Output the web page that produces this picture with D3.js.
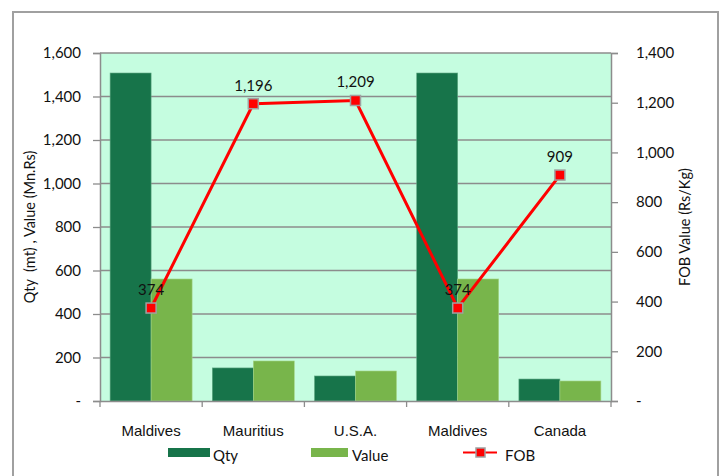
<!DOCTYPE html>
<html><head><meta charset="utf-8">
<script src="https://cdn.jsdelivr.net/npm/d3@7"></script>
<style>body{margin:0;background:#fff}svg{display:block;font-family:Lato,"Open Sans",sans-serif}text{white-space:pre}</style>
</head><body><svg id="c" width="723" height="476"></svg>
<script>
const categories = ["Maldives","Mauritius","U.S.A.","Maldives","Canada"];
const qty = [1508, 152, 115, 1508, 101];
const value = [561, 184, 138, 561, 92];
const fob = [374, 1196, 1209, 374, 909];
const leftTicks = [0,200,400,600,800,1000,1200,1400,1600];
const rightTicks = [0,200,400,600,800,1000,1200,1400];

const svg = d3.select("#c");
const m = {l:100, r:611, t:53, b:401};
const fmt = v => v === 0 ? "-" : d3.format(",")(v);
const FS = 15;

svg.append("path").attr("d","M13,476V12H718V476").attr("fill","none").attr("stroke","#a0a0a0").attr("stroke-width",2);

const x = d3.scaleBand().domain(d3.range(categories.length)).range([m.l,m.r]);
const yL = d3.scaleLinear().domain([0,1600]).range([m.b,m.t]);
const yR = d3.scaleLinear().domain([0,1400]).range([m.b,m.t]);

svg.append("rect").attr("x",m.l).attr("y",m.t).attr("width",m.r-m.l).attr("height",m.b-m.t).attr("fill","#c5fde0");

svg.append("g").selectAll("line").data(leftTicks.slice(1)).join("line")
 .attr("x1",m.l).attr("x2",m.r).attr("y1",d=>yL(d)).attr("y2",d=>yL(d))
 .attr("stroke","#8c8c8c").attr("stroke-width",1.3);

const bw = 41;
const gb = svg.append("g");
gb.selectAll(".q").data(qty).join("rect")
 .attr("x",(d,i)=>x(i)+x.bandwidth()/2-bw).attr("y",d=>yL(d)).attr("width",bw).attr("height",d=>m.b-yL(d))
 .attr("fill","#17744a").attr("stroke","#5fa883").attr("stroke-width",0.6);
gb.selectAll(".v").data(value).join("rect")
 .attr("x",(d,i)=>x(i)+x.bandwidth()/2).attr("y",d=>yL(d)).attr("width",bw).attr("height",d=>m.b-yL(d))
 .attr("fill","#78b54b").attr("stroke","#a6d58a").attr("stroke-width",0.6);

const axL = d3.axisLeft(yL).tickValues(leftTicks).tickFormat(fmt).tickSize(7).tickPadding(12);
const gL = svg.append("g").attr("transform",`translate(${m.l},0)`).call(axL);
const axR = d3.axisRight(yR).tickValues(rightTicks).tickFormat(fmt).tickSize(7).tickPadding(18);
const gR = svg.append("g").attr("transform",`translate(${m.r},0)`).call(axR);
const axB = d3.axisBottom(x).tickValues([]).tickSize(0);
const gB = svg.append("g").attr("transform",`translate(0,${m.b})`).call(axB);
gB.selectAll(".ct").data(d3.range(categories.length+1)).join("line")
 .attr("x1",i=>m.l+i*x.bandwidth()).attr("x2",i=>m.l+i*x.bandwidth()).attr("y1",0).attr("y2",6)
 .attr("stroke","#8c8c8c").attr("stroke-width",1.3);
gB.selectAll(".cl").data(categories).join("text")
 .attr("x",(d,i)=>x(i)+x.bandwidth()/2).attr("y",35).attr("text-anchor","middle")
 .attr("font-size",FS).attr("fill","#111").text(d=>d);
[gL,gR,gB].forEach(g=>{
  g.selectAll(".domain").attr("stroke","#8c8c8c").attr("stroke-width",1.5);
  g.selectAll(".tick line").attr("stroke","#8c8c8c").attr("stroke-width",1.3);
  g.selectAll(".tick text").attr("font-size",FS).attr("fill","#111").attr("font-family","Lato,'Open Sans',sans-serif");
});
gR.selectAll(".tick text").attr("text-anchor","start");

svg.append("text").attr("transform","translate(35,227) rotate(-90)").attr("text-anchor","middle")
 .attr("font-size",14.5).attr("fill","#111").text("Qty  (mt) , Value (Mn.Rs)");
svg.append("text").attr("transform","translate(690,227) rotate(-90)").attr("text-anchor","middle")
 .attr("font-size",14.5).attr("fill","#111").text("FOB Value (Rs/Kg)");

const cx = i => x(i)+x.bandwidth()/2;
svg.append("path").datum(fob).attr("fill","none").attr("stroke","#ff0000").attr("stroke-width",3)
 .attr("d",d3.line().x((d,i)=>cx(i)).y(d=>yR(d)));
svg.append("g").selectAll("rect").data(fob).join("rect")
 .attr("x",(d,i)=>cx(i)-5).attr("y",d=>yR(d)-5).attr("width",10).attr("height",10)
 .attr("fill","#ff0000").attr("stroke","#a0a0a0").attr("stroke-width",1.5);
svg.append("g").selectAll("text").data(fob).join("text")
 .attr("x",(d,i)=>cx(i)).attr("y",d=>yR(d)-13).attr("text-anchor","middle")
 .attr("font-size",FS).attr("fill","#111").text(d=>d3.format(",")(d));

const lg = svg.append("g");
lg.append("rect").attr("x",168).attr("y",448).attr("width",42).attr("height",9).attr("fill","#17744a");
lg.append("text").attr("x",213).attr("y",461).attr("font-size",FS).attr("fill","#111").text("Qty");
lg.append("rect").attr("x",311).attr("y",448).attr("width",37).attr("height",9).attr("fill","#78b54b");
lg.append("text").attr("x",352).attr("y",461).attr("font-size",FS).attr("fill","#111").text("Value");
lg.append("line").attr("x1",463).attr("x2",497).attr("y1",452.5).attr("y2",452.5).attr("stroke","#ff0000").attr("stroke-width",2);
lg.append("rect").attr("x",476).attr("y",448).attr("width",9).attr("height",9).attr("fill","#ff0000").attr("stroke","#a0a0a0").attr("stroke-width",1.5);
lg.append("text").attr("x",505).attr("y",461).attr("font-size",FS).attr("fill","#111").text("FOB");
</script></body></html>
